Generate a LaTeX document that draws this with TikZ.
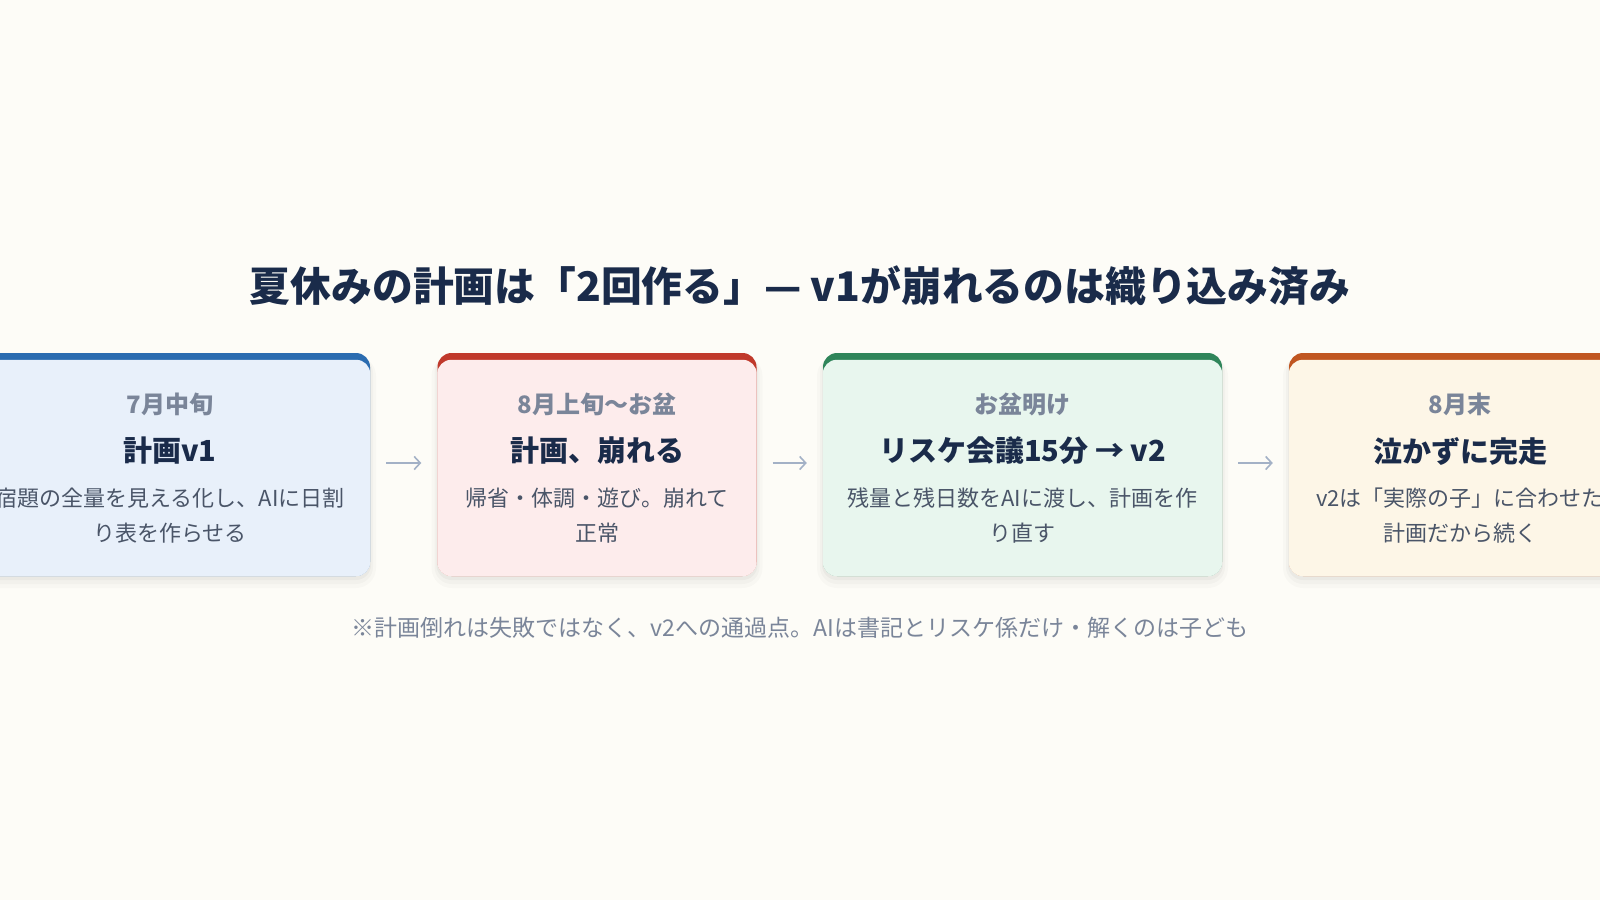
\documentclass[tikz,border=0pt]{standalone}
\usepackage{fontspec}
\setmainfont{Noto Sans CJK JP}
\usetikzlibrary{arrows.meta}
\definecolor{bg}{HTML}{FDFCF7}
\definecolor{bandA}{HTML}{2B6CB0}
\definecolor{fillA}{HTML}{E8F0FA}
\definecolor{bandB}{HTML}{C0392B}
\definecolor{fillB}{HTML}{FDECEC}
\definecolor{bandC}{HTML}{2F855A}
\definecolor{fillC}{HTML}{E8F6EE}
\definecolor{bandD}{HTML}{C05621}
\definecolor{fillD}{HTML}{FDF6E7}
\definecolor{titlec}{HTML}{1A2B4A}
\definecolor{labc}{HTML}{7A8599}
\definecolor{bodyc}{HTML}{4A5568}
\definecolor{arrowc}{HTML}{A3B1C6}
\newcommand{\mkcard}[5]{%
  \fill[black,opacity=0.02,rounded corners=20pt] ({#2-#3/2-6},356) rectangle ({#2+#3/2+6},588);
  \fill[black,opacity=0.025,rounded corners=17pt] ({#2-#3/2-3},356) rectangle ({#2+#3/2+3},584);
  \fill[black,opacity=0.03,rounded corners=15pt] ({#2-#3/2-1},355) rectangle ({#2+#3/2+1},580);
  \node[card,fill=#4,minimum width=#3pt] (#1) at (#2,464.5) {};
  \fill[#5,rounded corners=14pt] ([yshift=-7pt]#1.north west) rectangle (#1.south east);
}
\begin{document}
\begin{tikzpicture}[x=1pt,y=-1pt,
  card/.style={rounded corners=14pt,minimum height=223pt,inner sep=0pt,draw=none},
  titletext/.style={font=\bfseries\fontsize{40.8}{48}\selectfont,text=titlec,inner sep=0pt},
  labtext/.style={font=\bfseries\fontsize{24}{28}\selectfont,text=labc,inner sep=0pt},
  headtext/.style={font=\bfseries\fontsize{29}{34}\selectfont,text=titlec,inner sep=0pt},
  bodytext/.style={font=\fontsize{22}{35}\selectfont,text=bodyc,inner sep=0pt,align=center},
  notetext/.style={font=\fontsize{23}{27}\selectfont,text=labc,inner sep=0pt},
  conn/.style={draw=arrowc,line width=1.6pt,shorten <=16pt,shorten >=16pt,-{Straight Barb[length=6pt,width=13pt]}}]
\fill[bg] (0,0) rectangle (1600,900);
\useasboundingbox (0,0) rectangle (1600,900);

\node[titletext] (title) at (800,286) {夏休みの計画は「2回作る」— v1が崩れるのは織り込み済み};

\mkcard{c1}{170}{400}{bandA}{fillA}
\mkcard{c2}{597}{319}{bandB}{fillB}
\mkcard{c3}{1022.5}{399}{bandC}{fillC}
\mkcard{c4}{1460}{342}{bandD}{fillD}

\node[labtext] (l1) at (170,404) {7月中旬};
\node[headtext] (h1) at (170,451) {計画v1};
\node[bodytext] (b1) at (170,516) {宿題の全量を見える化し、AIに日割\\り表を作らせる};

\node[labtext] (l2) at (597,404) {8月上旬〜お盆};
\node[headtext] (h2) at (597,451) {計画、崩れる};
\node[bodytext] (b2) at (597,516) {帰省・体調・遊び。崩れて\\正常};

\node[labtext] (l3) at (1022.5,404) {お盆明け};
\node[headtext] (h3) at (1022.5,451) {リスケ会議15分 → v2};
\node[bodytext] (b3) at (1022.5,516) {残量と残日数をAIに渡し、計画を作\\り直す};

\node[labtext] (l4) at (1460,404) {8月末};
\node[headtext] (h4) at (1460,451) {泣かずに完走};
\node[bodytext] (b4) at (1460,516) {v2は「実際の子」に合わせた\\計画だから続く};

\draw[conn] ([yshift=1.5pt]c1.east) -- ([yshift=1.5pt]c2.west);
\draw[conn] ([yshift=1.5pt]c2.east) -- ([yshift=1.5pt]c3.west);
\draw[conn] ([yshift=1.5pt]c3.east) -- ([yshift=1.5pt]c4.west);

\node[notetext] (note) at (800,628) {※計画倒れは失敗ではなく、v2への通過点。AIは書記とリスケ係だけ・解くのは子ども};
\end{tikzpicture}
\end{document}
